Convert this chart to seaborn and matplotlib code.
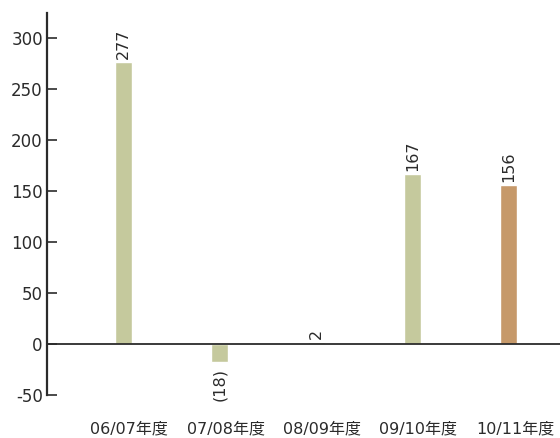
import matplotlib
matplotlib.use("Agg")
import matplotlib.pyplot as plt
import matplotlib.transforms as mtransforms
import seaborn as sns

# Fiscal years and values
years = ["06/07年度", "07/08年度", "08/09年度", "09/10年度", "10/11年度"]
values = [277, -18, 2, 167, 156]
value_labels = ["277", "(18)", "2", "167", "156"]
bar_colors = ["#c5c99d", "#c5c99d", "#c5c99d", "#c5c99d", "#c6996a"]
y_ticks = [-50, 0, 50, 100, 150, 200, 250, 300]

sns.set_theme(style="white")
plt.rcParams["font.family"] = ["DejaVu Sans", "Noto Sans CJK JP"]
plt.rcParams["axes.unicode_minus"] = False
ink = "#2b2b2b"

fig = plt.figure(figsize=(5.6, 4.38), dpi=100)
ax = fig.add_axes([47 / 560, 1 - 395 / 438, 1 - 47 / 560, (395 - 13) / 438])

sns.barplot(x=years, y=values, hue=years, palette=bar_colors, legend=False,
            width=0.176, saturation=1, ax=ax)

ax.set_xlim(-0.79, 4.53)
ax.set_ylim(-50, 325)
ax.axhline(0, color=ink, lw=1.3, zorder=1)

for sp in ["top", "right", "bottom"]:
    ax.spines[sp].set_visible(False)
ax.spines["left"].set_color(ink)
ax.spines["left"].set_linewidth(1.6)

ax.set_yticks(y_ticks)
ax.tick_params(axis="y", direction="in", length=7.5, width=1.2, color=ink,
               labelsize=12, labelcolor=ink, pad=3, left=True)
ax.tick_params(axis="x", length=0, labelsize=11.5, labelcolor=ink, pad=19)
ax.set_xlabel("")
ax.set_ylabel("")

shift = mtransforms.ScaledTranslation(6 / 100, 0, fig.dpi_scale_trans)
for lbl in ax.get_xticklabels():
    lbl.set_transform(lbl.get_transform() + shift)

for i, (v, t) in enumerate(zip(values, value_labels)):
    if v >= 0:
        ax.annotate(t, (i, v), xytext=(0, 2), textcoords="offset points",
                    rotation=90, ha="center", va="bottom", fontsize=11.5, color=ink)
    else:
        ax.annotate(t, (i, v), xytext=(0, -4), textcoords="offset points",
                    rotation=90, ha="center", va="top", fontsize=11.5, color=ink)

fig.savefig("out.png", dpi=100)
